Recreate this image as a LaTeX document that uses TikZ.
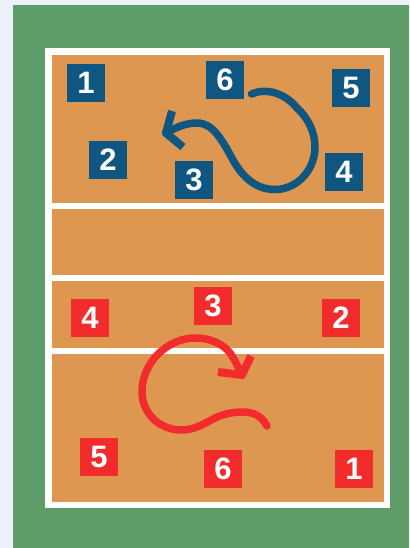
\documentclass[tikz,border=0pt]{standalone}
\usepackage{fontspec}
\setmainfont{Liberation Sans}
\definecolor{pagebg}{HTML}{ECF0F9}
\definecolor{grass}{HTML}{5E9C69}
\definecolor{floor}{HTML}{DD9751}
\definecolor{teamblue}{HTML}{0F5780}
\definecolor{teamred}{HTML}{F22C2C}
\tikzset{
  player/.style={minimum size=38pt, inner sep=0pt, text=white, font=\fontsize{31}{31}\selectfont\bfseries},
  blueplayer/.style={player, fill=teamblue},
  redplayer/.style={player, fill=teamred},
  courtline/.style={draw=white, line width=6.6pt},
  rotation/.style={line width=7.5pt, line cap=round, line join=round},
  barb/.style={line width=8pt, line join=round}
}
\begin{document}
\begin{tikzpicture}[x=1pt, y=-1pt]
  \useasboundingbox (0,0) rectangle (409,548);
  \fill[pagebg] (0,0) rectangle (409,548);
  \fill[grass] (13,5) rectangle (409,548);

  \fill[floor] (48.3,51.6) rectangle (387,505);
  \draw[courtline] (48.3,51.6) rectangle (387,505);
  \draw[courtline] (48.3,206) -- (387,206);
  \draw[courtline] (48.3,278) -- (387,278);
  \draw[courtline] (48.3,351) -- (387,351);

  \node[blueplayer] (b1) at (86,83)   {1};
  \node[blueplayer] (b2) at (108,160) {2};
  \node[blueplayer] (b3) at (194,180) {3};
  \node[blueplayer] (b4) at (344,172) {4};
  \node[blueplayer] (b5) at (351,88)  {5};
  \node[blueplayer] (b6) at (225,80)  {6};

  \node[redplayer] (r1) at (354,469) {1};
  \node[redplayer] (r2) at (341,318) {2};
  \node[redplayer] (r3) at (213,306) {3};
  \node[redplayer] (r4) at (90,318)  {4};
  \node[redplayer] (r5) at (99,457)  {5};
  \node[redplayer] (r6) at (223,469) {6};

  \coordinate (bstart) at (251.5,94);
  \coordinate (btip) at (166,133);
  \coordinate (rstart) at (267,426);
  \coordinate (rtip) at (242,375);

  \draw[rotation, teamblue] (bstart)
    .. controls (265,88) and (284,92) .. (297,108)
    .. controls (308,118) and (315,132) .. (315,147)
    .. controls (315,170) and (297,189.5) .. (275,189.5)
    .. controls (255,189.5) and (242,176) .. (233,160)
    .. controls (222,140) and (213,123) .. (197,123)
    .. controls (185,123) and (175,128) .. (btip);
  \draw[barb, teamblue] (172,111) -- (btip) -- (183,147);

  \draw[rotation, teamred] (rstart)
    .. controls (262,416) and (253,412) .. (243,412)
    .. controls (232,412) and (225,414) .. (217,417)
    .. controls (205,423) and (195,430) .. (182,430)
    .. controls (158,430) and (142,412) .. (142,392)
    .. controls (142,362) and (168,338) .. (195,338)
    .. controls (212,338) and (224,345) .. (230,353)
    .. controls (235,360) and (238,367) .. (rtip);
  \draw[barb, teamred] (251,356) -- (rtip) -- (218,372);
\end{tikzpicture}
\end{document}
